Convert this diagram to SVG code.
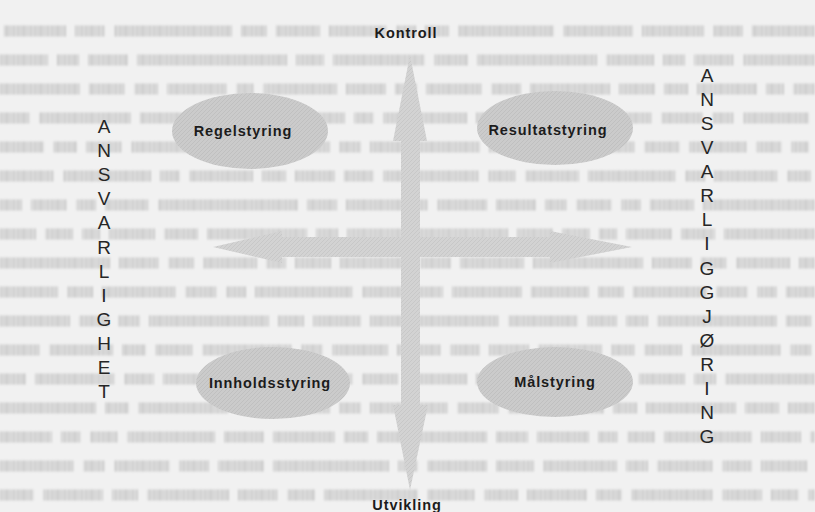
<svg xmlns="http://www.w3.org/2000/svg" width="815" height="512" viewBox="0 0 815 512">
  <defs>
    <style>
      .page { fill: #f1f1f1; }
      .ghost { fill: none; stroke-width: 11; }
      .blob { fill: url(#grainDark); }
      .arrow { fill: url(#grainLight); }
      .lbl { font-family: "Liberation Sans", Arial, sans-serif; font-weight: bold; font-size: 14.5px; letter-spacing: 0.9px; fill: #1c1c1c; text-anchor: middle; }
      .col { font-family: "Liberation Sans", Arial, sans-serif; font-size: 19px; fill: #262626; text-anchor: middle; }
    </style>
    <pattern id="grainDark" width="4" height="4" patternUnits="userSpaceOnUse">
      <rect width="4" height="4" fill="#cbcbcb"/>
      <path d="M0 4 L4 0" stroke="#bebebe" stroke-width="0.8"/>
    </pattern>
    <pattern id="grainLight" width="4" height="4" patternUnits="userSpaceOnUse">
      <rect width="4" height="4" fill="#d3d3d3"/>
      <path d="M0 4 L4 0" stroke="#c5c5c5" stroke-width="0.8"/>
    </pattern>
    <!-- letter-stem stripes used to ink the show-through rows -->
    <pattern id="inked" width="17" height="29" patternUnits="userSpaceOnUse">
      <rect x="0" y="0" width="1.8" height="29" fill="#c8c8c8"/>
      <rect x="3.4" y="0" width="1.6" height="29" fill="#cdcdcd"/>
      <rect x="6.2" y="0" width="2" height="29" fill="#c6c6c6"/>
      <rect x="9.8" y="0" width="1.5" height="29" fill="#cccccc"/>
      <rect x="13" y="0" width="1.9" height="29" fill="#c9c9c9"/>
    </pattern>
    <filter id="soft" x="-5%" y="-50%" width="110%" height="200%">
      <feGaussianBlur stdDeviation="1.1"/>
    </filter>
    <g id="rows" class="ghost">
      <line x1="4" y1="31" x2="815" y2="31" stroke-dasharray="62 9 30 9 118 9 26 9 44 9 58 9 20 9 24 9 96 9 70 9"/>
      <line x1="0" y1="60" x2="815" y2="60" stroke-dasharray="48 9 22 9 40 9 150 9 28 9 92 9 34 9 120 9"/>
      <line x1="0" y1="89" x2="815" y2="89" stroke-dasharray="80 9 36 9 24 9 60 9 18 9 74 9 40 9 22 9 56 9 30 9"/>
      <line x1="0" y1="118" x2="815" y2="118" stroke-dasharray="30 9 92 9 42 9 22 9 66 9 48 9 20 9 84 9 36 9"/>
      <line x1="0" y1="147" x2="815" y2="147" stroke-dasharray="44 9 24 9 36 9 58 9 26 9 18 9 70 9 22 9 110 9 60 9"/>
      <line x1="0" y1="176" x2="815" y2="176" stroke-dasharray="54 9 88 9 20 9 64 9 24 9 40 9 30 9 96 9 28 9"/>
      <line x1="0" y1="205" x2="815" y2="205" stroke-dasharray="22 9 36 9 20 9 44 9 140 9 30 9 82 9 50 9 40 9"/>
      <line x1="0" y1="234" x2="815" y2="234" stroke-dasharray="36 9 28 9 18 9 46 9 34 9 100 9 22 9 62 9 90 9"/>
      <line x1="0" y1="263" x2="815" y2="263" stroke-dasharray="110 9 40 9 26 9 54 9 20 9 36 9 72 9 30 9 64 9"/>
      <line x1="0" y1="292" x2="815" y2="292" stroke-dasharray="58 9 26 9 74 9 32 9 20 9 98 9 44 9 28 9 70 9"/>
      <line x1="0" y1="321" x2="815" y2="321" stroke-dasharray="70 9 30 9 22 9 120 9 26 9 48 9 36 9 84 9"/>
      <line x1="0" y1="350" x2="815" y2="350" stroke-dasharray="40 9 64 9 24 9 38 9 90 9 22 9 56 9 44 9 30 9"/>
      <line x1="0" y1="379" x2="815" y2="379" stroke-dasharray="26 9 80 9 30 9 46 9 22 9 104 9 36 9 60 9"/>
      <line x1="0" y1="408" x2="815" y2="408" stroke-dasharray="96 9 24 9 90 9 34 9 50 9 22 9 78 9 42 9"/>
      <line x1="0" y1="437" x2="815" y2="437" stroke-dasharray="52 9 20 9 28 9 88 9 40 9 62 9 24 9 110 9 32 9"/>
      <line x1="0" y1="466" x2="815" y2="466" stroke-dasharray="74 9 22 9 56 9 30 9 46 9 116 9 20 9 60 9 38 9"/>
      <line x1="0" y1="495" x2="815" y2="495" stroke-dasharray="34 9 60 9 26 9 82 9 40 9 28 9 94 9 48 9"/>
    </g>
  </defs>

  <!-- paper -->
  <rect class="page" x="0" y="0" width="815" height="512"/>

  <!-- faint show-through from the reverse page: tonal band plus letter stems -->
  <g id="show-through" filter="url(#soft)">
    <use href="#rows" stroke="#e2e2e2"/>
    <use href="#rows" stroke="url(#inked)"/>
  </g>

  <!-- crossing double arrows -->
  <g id="connectors">
    <polygon class="arrow" points="410,55 427,141 420,141 420,405 428,405 410,490 393,405 401,405 401,141 393,141"/>
    <polygon class="arrow" points="213,247 282,231 282,237 550,237 550,231 632,247 550,263 550,257 282,257 282,263"/>
  </g>

  <!-- axis labels -->
  <g id="kontroll"><text class="lbl" x="406" y="38">Kontroll</text></g>
  <g id="utvikling"><text class="lbl" x="407" y="510">Utvikling</text></g>

  <!-- quadrants -->
  <g id="regelstyring">
    <ellipse class="blob" cx="250" cy="131" rx="78" ry="38"/>
    <text class="lbl" x="243" y="136">Regelstyring</text>
  </g>
  <g id="resultatstyring">
    <ellipse class="blob" cx="555" cy="128" rx="78" ry="37"/>
    <text class="lbl" x="548" y="135">Resultatstyring</text>
  </g>
  <g id="innholdsstyring">
    <ellipse class="blob" cx="273" cy="383" rx="77" ry="36"/>
    <text class="lbl" x="270" y="388">Innholdsstyring</text>
  </g>
  <g id="malstyring">
    <ellipse class="blob" cx="555" cy="382" rx="78" ry="35"/>
    <text class="lbl" x="555" y="387">Målstyring</text>
  </g>

  <!-- vertical side words -->
  <g id="ansvarlighet">
    <text class="col" x="104" y="133">A</text>
    <text class="col" x="104" y="157">N</text>
    <text class="col" x="104" y="181">S</text>
    <text class="col" x="104" y="205">V</text>
    <text class="col" x="104" y="229">A</text>
    <text class="col" x="104" y="254">R</text>
    <text class="col" x="104" y="278">L</text>
    <text class="col" x="104" y="302">I</text>
    <text class="col" x="104" y="326">G</text>
    <text class="col" x="104" y="350">H</text>
    <text class="col" x="104" y="374">E</text>
    <text class="col" x="104" y="398">T</text>
  </g>
  <g id="ansvarliggjoring">
    <text class="col" x="707" y="82">A</text>
    <text class="col" x="707" y="106">N</text>
    <text class="col" x="707" y="130">S</text>
    <text class="col" x="707" y="154">V</text>
    <text class="col" x="707" y="178">A</text>
    <text class="col" x="707" y="202">R</text>
    <text class="col" x="707" y="226">L</text>
    <text class="col" x="707" y="250">I</text>
    <text class="col" x="707" y="275">G</text>
    <text class="col" x="707" y="299">G</text>
    <text class="col" x="707" y="323">J</text>
    <text class="col" x="707" y="347">Ø</text>
    <text class="col" x="707" y="371">R</text>
    <text class="col" x="707" y="395">I</text>
    <text class="col" x="707" y="419">N</text>
    <text class="col" x="707" y="443">G</text>
  </g>
</svg>
